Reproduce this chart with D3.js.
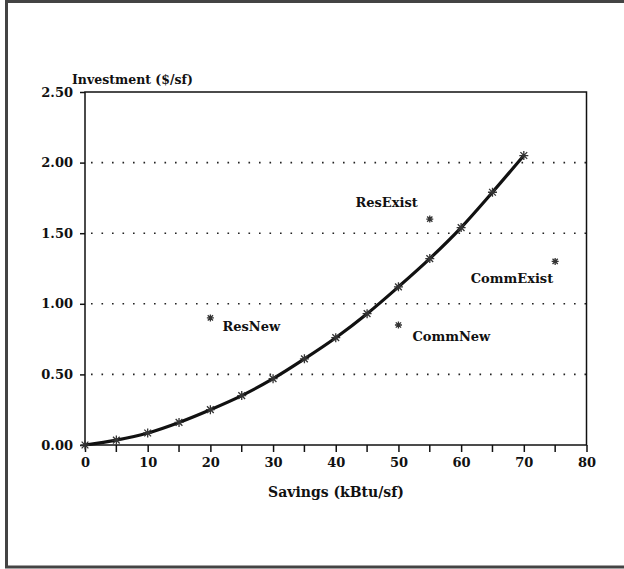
<!DOCTYPE html>
<html>
<head>
<meta charset="utf-8">
<script src="https://cdn.jsdelivr.net/npm/d3@7/dist/d3.min.js"></script>
<style>
  body { margin: 0; background: #fff; }
  text { font-family: "DejaVu Serif", serif; font-weight: bold; fill: #111; }
</style>
</head>
<body>
<script>
// curve: savings (kBtu/sf) vs investment ($/sf)
const curveX = [0, 5, 10, 15, 20, 25, 30, 35, 40, 45, 50, 55, 60, 65, 70]
const curveY = [0, 0.035, 0.085, 0.16, 0.25, 0.35, 0.47, 0.61, 0.76, 0.93, 1.12, 1.32, 1.54, 1.79, 2.05]

// single points with labels
const pointNames = ['ResNew', 'ResExist', 'CommNew', 'CommExist']
const pointX = [20, 55, 50, 75]
const pointY = [0.90, 1.60, 0.85, 1.30]

const xTicks = [0, 10, 20, 30, 40, 50, 60, 70, 80]
const xMinor = [5, 15, 25, 35, 45, 55, 65, 75]
const yTicks = [0, 0.5, 1.0, 1.5, 2.0, 2.5]

const W = 624, H = 569
const svg = d3.select('body').append('svg')
    .attr('width', W)
    .attr('height', H)

// outer frame (top, left, bottom visible in the scan)
svg.append('path')
    .attr('d', 'M624,1.5 L6.5,1.5 L6.5,567 L624,567')
    .attr('fill', 'none')
    .attr('stroke', '#444')
    .attr('stroke-width', 3)

const x = d3.scaleLinear().domain([0, 80]).range([85, 586.5])
const y = d3.scaleLinear().domain([0, 2.5]).range([445, 92])

// dotted grid
svg.append('g')
    .selectAll('line')
    .data(yTicks.filter(d => d > 0 && d < 2.5))
    .enter()
    .append('line')
    .attr('x1', x(0) + 6).attr('x2', x(80))
    .attr('y1', d => y(d)).attr('y2', d => y(d))
    .attr('stroke', '#222')
    .attr('stroke-width', 1.6)
    .attr('stroke-dasharray', '1.6,8.9')

// frame of plot
svg.append('rect')
    .attr('x', x(0)).attr('y', y(2.5))
    .attr('width', x(80) - x(0)).attr('height', y(0) - y(2.5))
    .attr('fill', 'none')
    .attr('stroke', '#111')
    .attr('stroke-width', 1.5)

// x axis
const xAxis = d3.axisBottom(x)
    .tickValues(xTicks)
    .tickSize(7)
    .tickPadding(6)
    .tickFormat(d3.format('d'))
const gx = svg.append('g')
    .attr('transform', `translate(0,${y(0)})`)
    .call(xAxis)
gx.select('.domain').remove()
gx.selectAll('line').attr('stroke', '#111').attr('stroke-width', 1.5)
gx.selectAll('text').attr('font-size', 13).attr('font-family', null).attr('fill', null)

svg.append('g')
    .attr('transform', `translate(0,${y(0)})`)
    .selectAll('line')
    .data(xMinor)
    .enter()
    .append('line')
    .attr('x1', d => x(d)).attr('x2', d => x(d))
    .attr('y1', 0).attr('y2', 7)
    .attr('stroke', '#111')
    .attr('stroke-width', 1.5)

// y axis
const yAxis = d3.axisLeft(y)
    .tickValues(yTicks)
    .tickSize(5)
    .tickPadding(7)
    .tickFormat(d3.format('.2f'))
const gy = svg.append('g')
    .attr('transform', `translate(${x(0)},0)`)
    .call(yAxis)
gy.select('.domain').remove()
gy.selectAll('line').attr('stroke', '#111').attr('stroke-width', 1.5)
gy.selectAll('text').attr('font-size', 13).attr('font-family', null).attr('fill', null)

// axis titles
svg.append('text')
    .attr('x', 72).attr('y', 84)
    .attr('font-size', 12.5)
    .text('Investment ($/sf)')

svg.append('text')
    .attr('x', 336).attr('y', 497)
    .attr('text-anchor', 'middle')
    .attr('font-size', 14)
    .text('Savings (kBtu/sf)')

// curve
const pts = curveX.map((d, i) => [d, curveY[i]])
svg.append('path')
    .datum(pts)
    .attr('d', d3.line().x(d => x(d[0])).y(d => y(d[1])).curve(d3.curveMonotoneX))
    .attr('fill', 'none')
    .attr('stroke', '#111')
    .attr('stroke-width', 3.2)

// star marker: plus + x
function star(r) {
    const a = r * 0.75
    return `M${-r},0L${r},0M0,${-r}L0,${r}M${-a},${-a}L${a},${a}M${-a},${a}L${a},${-a}`
}

svg.append('g')
    .selectAll('path')
    .data(pts)
    .enter()
    .append('path')
    .attr('transform', d => `translate(${x(d[0])},${y(d[1])})`)
    .attr('d', star(4.5))
    .attr('stroke', '#333')
    .attr('stroke-width', 1.3)
    .attr('fill', 'none')

// single points
const labelPos = [
    {dx: 12, dy: 13, anchor: 'start'},
    {dx: -12, dy: -12, anchor: 'end'},
    {dx: 14, dy: 16, anchor: 'start'},
    {dx: -2, dy: 22, anchor: 'end'}
]

const single = svg.append('g')
    .selectAll('g')
    .data(pointNames)
    .enter()
    .append('g')
    .attr('transform', (d, i) => `translate(${x(pointX[i])},${y(pointY[i])})`)

single.append('path')
    .attr('d', star(3.5))
    .attr('stroke', '#333')
    .attr('stroke-width', 1.3)
    .attr('fill', 'none')

single.append('text')
    .attr('x', (d, i) => labelPos[i].dx)
    .attr('y', (d, i) => labelPos[i].dy)
    .attr('text-anchor', (d, i) => labelPos[i].anchor)
    .attr('font-size', 13)
    .text(d => d)
</script>
</body>
</html>
